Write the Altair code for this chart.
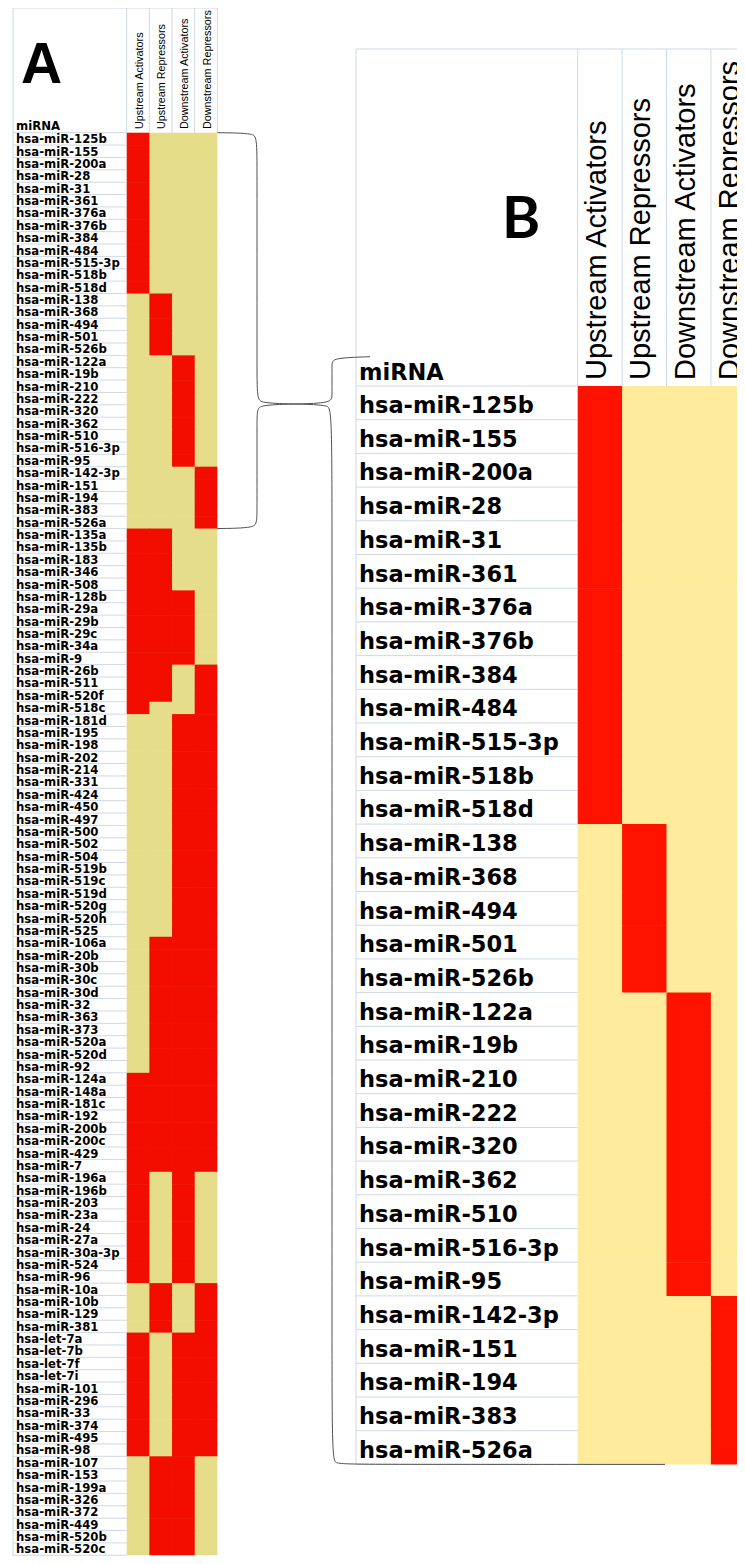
import altair as alt
import pandas as pd

# ---------------- data ----------------
columns = ["Upstream Activators", "Upstream Repressors",
           "Downstream Activators", "Downstream Repressors"]

# presence pattern (UA, UR, DA, DR) for each group, in table order
group_patterns = ["1000", "0100", "0010", "0001", "1100", "1110", "1101", "1001",
                  "0011", "0111", "1111", "1010", "0101", "1011", "0110"]

group_members = [
    ["hsa-miR-125b", "hsa-miR-155", "hsa-miR-200a", "hsa-miR-28", "hsa-miR-31",
     "hsa-miR-361", "hsa-miR-376a", "hsa-miR-376b", "hsa-miR-384", "hsa-miR-484",
     "hsa-miR-515-3p", "hsa-miR-518b", "hsa-miR-518d"],
    ["hsa-miR-138", "hsa-miR-368", "hsa-miR-494", "hsa-miR-501", "hsa-miR-526b"],
    ["hsa-miR-122a", "hsa-miR-19b", "hsa-miR-210", "hsa-miR-222", "hsa-miR-320",
     "hsa-miR-362", "hsa-miR-510", "hsa-miR-516-3p", "hsa-miR-95"],
    ["hsa-miR-142-3p", "hsa-miR-151", "hsa-miR-194", "hsa-miR-383", "hsa-miR-526a"],
    ["hsa-miR-135a", "hsa-miR-135b", "hsa-miR-183", "hsa-miR-346", "hsa-miR-508"],
    ["hsa-miR-128b", "hsa-miR-29a", "hsa-miR-29b", "hsa-miR-29c", "hsa-miR-34a", "hsa-miR-9"],
    ["hsa-miR-26b", "hsa-miR-511", "hsa-miR-520f"],
    ["hsa-miR-518c"],
    ["hsa-miR-181d", "hsa-miR-195", "hsa-miR-198", "hsa-miR-202", "hsa-miR-214",
     "hsa-miR-331", "hsa-miR-424", "hsa-miR-450", "hsa-miR-497", "hsa-miR-500",
     "hsa-miR-502", "hsa-miR-504", "hsa-miR-519b", "hsa-miR-519c", "hsa-miR-519d",
     "hsa-miR-520g", "hsa-miR-520h", "hsa-miR-525"],
    ["hsa-miR-106a", "hsa-miR-20b", "hsa-miR-30b", "hsa-miR-30c", "hsa-miR-30d",
     "hsa-miR-32", "hsa-miR-363", "hsa-miR-373", "hsa-miR-520a", "hsa-miR-520d", "hsa-miR-92"],
    ["hsa-miR-124a", "hsa-miR-148a", "hsa-miR-181c", "hsa-miR-192", "hsa-miR-200b",
     "hsa-miR-200c", "hsa-miR-429", "hsa-miR-7"],
    ["hsa-miR-196a", "hsa-miR-196b", "hsa-miR-203", "hsa-miR-23a", "hsa-miR-24",
     "hsa-miR-27a", "hsa-miR-30a-3p", "hsa-miR-524", "hsa-miR-96"],
    ["hsa-miR-10a", "hsa-miR-10b", "hsa-miR-129", "hsa-miR-381"],
    ["hsa-let-7a", "hsa-let-7b", "hsa-let-7f", "hsa-let-7i", "hsa-miR-101",
     "hsa-miR-296", "hsa-miR-33", "hsa-miR-374", "hsa-miR-495", "hsa-miR-98"],
    ["hsa-miR-107", "hsa-miR-153", "hsa-miR-199a", "hsa-miR-326", "hsa-miR-372",
     "hsa-miR-449", "hsa-miR-520b", "hsa-miR-520c"],
]

groups_in_b = 4  # panel B zooms on the first four (single-category) groups

# ---------------- layout (canvas pixels) ----------------
W, H = 729, 1548
A = dict(left=5, lab_r=118.7, cw=22.67, top=0, row0=124.7, rh=12.37,
         lab_fs=11.7, head_fs=10.8, lab_dy=10.5, head_dx=16, head_y=121,
         red="#f20d00", yel="#e6dd8a")
B = dict(left=348, lab_r=569.7, cw=44.4, top=41, row0=378, rh=33.7,
         lab_fs=22.5, head_fs=29, lab_dy=27, head_dx=28.3, head_y=372,
         red="#ff1300", yel="#ffeb9c")
GRID = "#cfd8e4"
OVER = 0.6  # small overlap so adjacent cells leave no antialiasing seams

rows = [(m, p) for p, g in zip(group_patterns, group_members) for m in g]
n_b = sum(len(g) for g in group_members[:groups_in_b])
panels = [("A", A, rows), ("B", B, rows[:n_b])]

cells, labels, heads, grid = [], [], [], []
for name, L, rr in panels:
    n = len(rr)
    right = L["lab_r"] + 4 * L["cw"]
    bottom = L["row0"] + n * L["rh"]
    for i, (lab, pat) in enumerate(rr):
        y0 = L["row0"] + i * L["rh"]
        labels.append(dict(panel=name, text=lab, x=L["left"] + 3, y=y0 + L["lab_dy"]))
        grid.append(dict(x=L["left"], x2=L["lab_r"], y=y0 + L["rh"], y2=y0 + L["rh"]))
        for j in range(4):
            last_r, last_c = (i == n - 1), (j == 3)
            cells.append(dict(key=name + pat[j],
                              x=L["lab_r"] + j * L["cw"],
                              x2=L["lab_r"] + (j + 1) * L["cw"] + (0 if last_c else OVER),
                              y=y0, y2=y0 + L["rh"] + (0 if last_r else OVER)))
    labels.append(dict(panel=name, text="miRNA", x=L["left"] + 3, y=L["row0"] - (2.7 if name == "A" else 6)))
    for j, c in enumerate(columns):
        heads.append(dict(panel=name, text=c, x=L["lab_r"] + j * L["cw"] + L["head_dx"], y=L["head_y"]))
    top_right = right if name == "A" else right + 40
    grid.append(dict(x=L["left"], x2=top_right, y=L["top"], y2=L["top"]))
    grid.append(dict(x=L["left"], x2=L["left"], y=L["top"], y2=bottom))
    for j in range(5):
        xx = L["lab_r"] + j * L["cw"]
        grid.append(dict(x=xx, x2=xx, y=L["top"], y2=L["row0"]))
    grid.append(dict(x=L["left"], x2=L["lab_r"], y=L["row0"], y2=L["row0"]))

# brace annotation joining panel A's first groups to panel B
a_right = A["lab_r"] + 4 * A["cw"]
a_top = A["row0"]
a_bot = A["row0"] + n_b * A["rh"]
b_bot = B["row0"] + n_b * B["rh"]
vx_a, tip_x, tip_y, vx_b = 249, 287, 396, 324
brace_paths = [
    [(a_right, a_top), (vx_a, a_top + 0.5), (vx_a, a_top + 7), (vx_a, tip_y - 8), (vx_a, tip_y - 1), (tip_x, tip_y)],
    [(tip_x, tip_y), (vx_a, tip_y + 1), (vx_a, tip_y + 8), (vx_a, a_bot - 8), (vx_a, a_bot - 0.5), (a_right, a_bot)],
    [(tip_x, tip_y), (vx_b, tip_y - 1), (vx_b, tip_y - 8), (vx_b, 356), (vx_b, 350), (362, 348.7)],
    [(tip_x, tip_y), (vx_b, tip_y + 1), (vx_b, tip_y + 8), (vx_b, b_bot - 7), (vx_b, b_bot - 0.5),
     (B["left"] + 9, b_bot), (657, b_bot)],
]
brace = [dict(seg=s, ord=k, x=p[0], y=p[1]) for s, path in enumerate(brace_paths) for k, p in enumerate(path)]

df_cells = pd.DataFrame(cells)
df_labels = pd.DataFrame(labels)
df_heads = pd.DataFrame(heads)
df_grid = pd.DataFrame(grid)
df_brace = pd.DataFrame(brace)
df_big = pd.DataFrame([dict(panel="A", text="A", x=13, y=75), dict(panel="B", text="B", x=494, y=230)])

xs = alt.Scale(domain=[0, W], nice=False, zero=False)
ys = alt.Scale(domain=[0, H], nice=False, zero=False, reverse=True)
X = lambda f="x": alt.X(f"{f}:Q", scale=xs, axis=None)
Y = lambda f="y": alt.Y(f"{f}:Q", scale=ys, axis=None)

color_scale = alt.Scale(domain=["A1", "A0", "B1", "B0"], range=[A["red"], A["yel"], B["red"], B["yel"]])

rect = alt.Chart(df_cells).mark_rect(opacity=1, strokeWidth=0).encode(
    x=X(), x2="x2:Q", y=Y(), y2="y2:Q",
    color=alt.Color("key:N", scale=color_scale, legend=None),
)

grid_layer = alt.Chart(df_grid).mark_rule(color=GRID, strokeWidth=1).encode(
    x=X(), x2="x2:Q", y=Y(), y2="y2:Q")

lab_a = alt.Chart(df_labels[df_labels.panel == "A"]).mark_text(
    align="left", baseline="alphabetic", font="DejaVu Sans", fontWeight="bold",
    fontSize=A["lab_fs"], color="#000").encode(x=X(), y=Y(), text="text:N")
lab_b = alt.Chart(df_labels[df_labels.panel == "B"]).mark_text(
    align="left", baseline="alphabetic", font="DejaVu Sans", fontWeight="bold",
    fontSize=B["lab_fs"], color="#000").encode(x=X(), y=Y(), text="text:N")

head_a = alt.Chart(df_heads[df_heads.panel == "A"]).mark_text(
    align="left", baseline="alphabetic", angle=270, font="Liberation Sans",
    fontSize=A["head_fs"], color="#000").encode(x=X(), y=Y(), text="text:N")
head_b = alt.Chart(df_heads[df_heads.panel == "B"]).mark_text(
    align="left", baseline="alphabetic", angle=270, font="Liberation Sans",
    fontSize=B["head_fs"], color="#000").encode(x=X(), y=Y(), text="text:N")

big_a = alt.Chart(df_big[df_big.panel == "A"]).mark_text(
    align="left", baseline="alphabetic", font="Liberation Sans", fontWeight="bold",
    fontSize=57, color="#000").encode(x=X(), y=Y(), text="text:N")
big_b = alt.Chart(df_big[df_big.panel == "B"]).mark_text(
    align="left", baseline="alphabetic", font="Lato", fontWeight="bold",
    fontSize=58, color="#000").encode(x=X(), y=Y(), text="text:N")

brace_layer = alt.Chart(df_brace).mark_line(
    interpolate="basis", color="#505050", strokeWidth=1).encode(
    x=X(), y=Y(), detail="seg:N", order="ord:Q")

chart = alt.layer(rect, grid_layer, lab_a, lab_b, head_a, head_b, big_a, big_b, brace_layer).properties(
    width=W, height=H, padding=0, autosize=alt.AutoSizeParams(type="none"),
    background="white",
).configure_view(stroke=None)

chart.save("out.html", embed_options={"renderer": "svg", "actions": False})
